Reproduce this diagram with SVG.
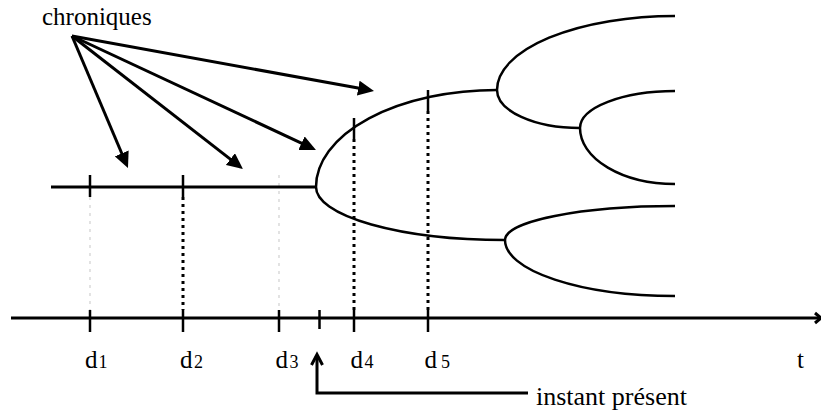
<svg xmlns="http://www.w3.org/2000/svg" width="821" height="414" viewBox="0 0 821 414">
<style>
.ln{fill:none;stroke:#000;stroke-width:3}
.br{fill:none;stroke:#000;stroke-width:2.5}
.tk{stroke:#000;stroke-width:2.5}
.dot{stroke:#000;stroke-width:3;stroke-dasharray:3 4}
.gray{stroke:#d0d0d0;stroke-width:1.2;stroke-dasharray:3 5}
.t{font-family:"Liberation Serif","Times New Roman","DejaVu Serif",serif;fill:#000}
.d{font-size:25px}
.n{font-size:18px}
</style>
<defs>
<marker id="ah" markerUnits="userSpaceOnUse" markerWidth="17" markerHeight="15" refX="4" refY="7.5" orient="auto">
<path d="M0,0 L16,7.5 L0,15 z" fill="#000"/>
</marker>
</defs>
<rect width="821" height="414" fill="#fff"/>
<g id="guides">
<line class="gray" x1="90" y1="197" x2="90" y2="310"/>
<line class="gray" x1="279" y1="175" x2="279" y2="310"/>
<line class="dot" x1="183" y1="197" x2="183" y2="310"/>
<line class="dot" x1="354" y1="139" x2="354" y2="310"/>
<line class="dot" x1="428" y1="111" x2="428" y2="310"/>
</g>
<g id="axis">
<line class="ln" x1="11" y1="318" x2="821" y2="318"/>
<polyline class="ln" points="815,313 821,318 815,323"/>
<line class="tk" x1="90" y1="310" x2="90" y2="332"/>
<line class="tk" x1="183" y1="310" x2="183" y2="332"/>
<line class="tk" x1="279" y1="310" x2="279" y2="332"/>
<line class="tk" x1="319.5" y1="310" x2="319.5" y2="329"/>
<line class="tk" x1="354" y1="310" x2="354" y2="332"/>
<line class="tk" x1="428" y1="310" x2="428" y2="332"/>
</g>
<g id="tree">
<line class="ln" x1="51" y1="187" x2="317" y2="187"/>
<line class="tk" x1="90" y1="175" x2="90" y2="197"/>
<line class="tk" x1="183" y1="175" x2="183" y2="197"/>
<path class="br" d="M316,187 A181,97 0 0 1 497,90"/>
<path class="br" d="M316,187 A189,53 0 0 0 505,240"/>
<path class="br" d="M497,90 A178,74 0 0 1 675,16"/>
<path class="br" d="M497,90 A83,38 0 0 0 580,128"/>
<path class="br" d="M580,128 A95,37 0 0 1 675,91"/>
<path class="br" d="M580,128 A95,56 0 0 0 675,184"/>
<path class="br" d="M505,240 A170,34 0 0 1 675,206"/>
<path class="br" d="M505,240 A170,56 0 0 0 675,296"/>
<line class="tk" x1="354" y1="118" x2="354" y2="139"/>
<line class="tk" x1="428" y1="90" x2="428" y2="111"/>
</g>
<g id="connectors">
<line class="ln" x1="72" y1="36" x2="123.3" y2="157" marker-end="url(#ah)"/>
<line class="ln" x1="72" y1="36" x2="233.5" y2="161.6" marker-end="url(#ah)"/>
<line class="ln" x1="72" y1="36" x2="305.1" y2="144.9" marker-end="url(#ah)"/>
<line class="ln" x1="72" y1="36" x2="362.2" y2="88.8" marker-end="url(#ah)"/>
<polyline class="ln" points="528,393 317,393 317,355"/>
<polyline class="ln" points="311.5,365 317,354.5 322.5,365"/>
</g>
<g id="label-chroniques"><text class="t" x="42" y="25" font-size="25">chroniques</text></g>
<g id="labels">
<text class="t d" x="85" y="368">d</text><text class="t n" x="98.5" y="368">1</text>
<text class="t d" x="180" y="368">d</text><text class="t n" x="194" y="368">2</text>
<text class="t d" x="275.5" y="368">d</text><text class="t n" x="289.5" y="368">3</text>
<text class="t d" x="350.5" y="368">d</text><text class="t n" x="364.5" y="368">4</text>
<text class="t d" x="424.5" y="368">d</text><text class="t n" x="441" y="368">5</text>
<text class="t d" x="797" y="368">t</text>
</g>
<g id="label-present"><text class="t" x="536" y="405" font-size="26">instant présent</text></g>
</svg>
